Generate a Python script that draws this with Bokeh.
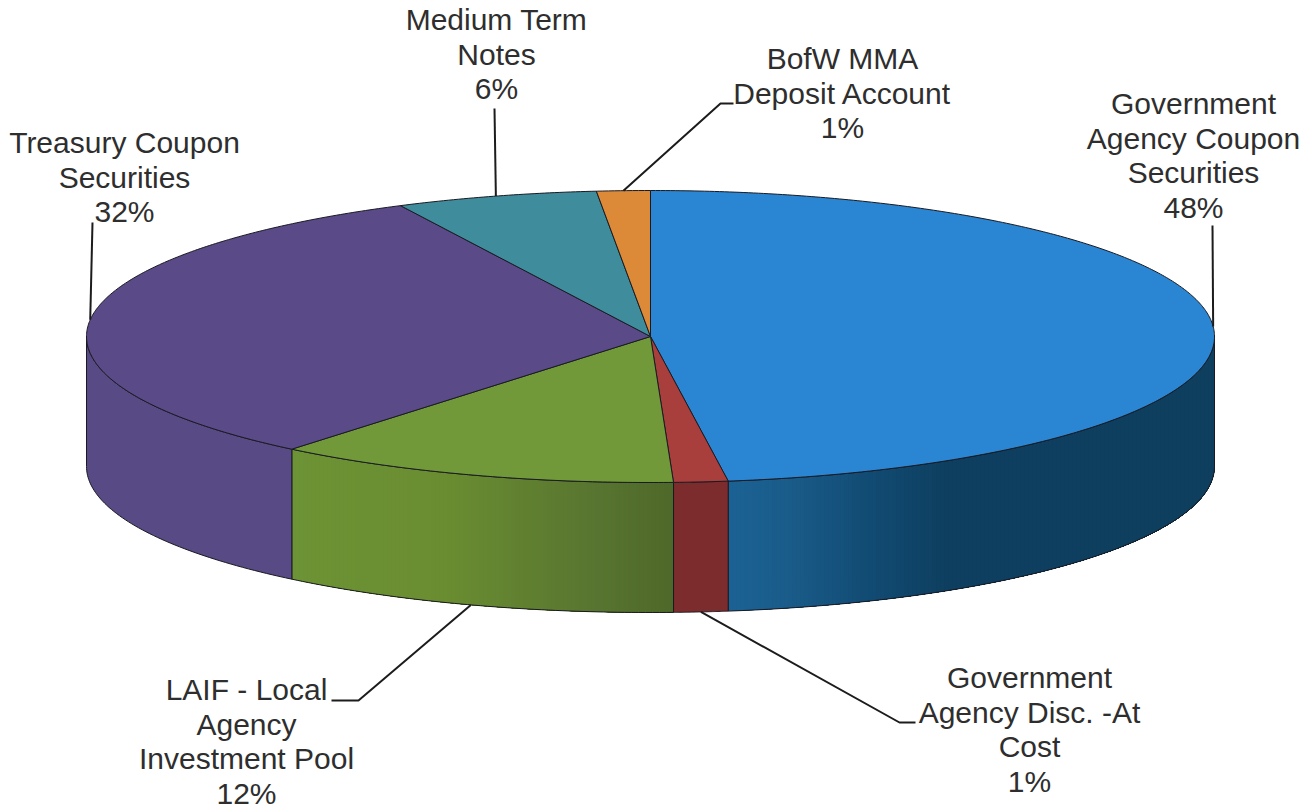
import numpy as np
from bokeh.plotting import figure
from bokeh.models import Range1d
from bokeh.core.properties import value
from bokeh.embed import file_html
from bokeh.resources import INLINE

# ---- data, clockwise from 12 o'clock ----
names = ["Government\nAgency Coupon\nSecurities", "Government\nAgency Disc. -At\nCost",
         "LAIF - Local\nAgency\nInvestment Pool", "Treasury Coupon\nSecurities",
         "Medium Term\nNotes", "BofW MMA\nDeposit Account"]
shares = [47.8, 1.55, 11.62, 31.72, 5.78, 1.53]
pct_labels = ["48%", "1%", "12%", "32%", "6%", "1%"]

# ---- styles ----
top_colors = ["#2a86d2", "#a93f3d", "#71993a", "#5a4b88", "#3f8d9c", "#dd8a38"]
# side shading, left to right across the visible wall of each slice
side_stops = [
    [(0.0, "#1b6294"), (0.12, "#1a5c8a"), (0.3, "#114a72"), (0.45, "#0e3f60"), (1.0, "#0e3f5f")],
    [(0.0, "#7d2c2d"), (1.0, "#7d2c2d")],
    [(0.0, "#6c9335"), (0.4, "#6a8d31"), (0.8, "#587530"), (1.0, "#4e6829")],
    [(0.0, "#574a85"), (1.0, "#574a85")],
    [(0.0, "#2f6a75"), (1.0, "#2f6a75")],
    [(0.0, "#a86a2a"), (1.0, "#a86a2a")],
]
edge = "#1a1a22"
text_color = "#2e2e2e"
FONT = "Liberation Sans"
FS = "30px"
LINE = 34.6

# ---- layout (reference pixels) ----
CX, CY, RX, RY, DEPTH = 650.0, 336.0, 564.0, 146.0, 130.0
label_xy = [(1193, 103), (1029, 677), (246, 689), (124, 142), (496, 19), (842, 58)]
leader_start = [[(1212, 225)], [(915, 722), (899, 722)], [(331, 700), (358, 700)],
                [(92, 222)], [(494, 108)], [(733, 103), (720, 103)]]
leader_on_side = [False, True, True, False, False, False]

p = figure(width=1315, height=812, output_backend="svg", toolbar_location=None,
           x_range=Range1d(0, 1315), y_range=Range1d(812, 0),
           x_axis_type=None, y_axis_type=None, min_border=0, outline_line_color=None)
p.grid.visible = False
p.background_fill_color = "white"
p.border_fill_color = "white"


def px(t):
    return CX + RX * np.sin(t)


def py(t):
    return CY - RY * np.cos(t)


def hex2rgb(h):
    return np.array([int(h[i:i + 2], 16) for i in (1, 3, 5)], float)


def mix(stops, f):
    for (f0, c0), (f1, c1) in zip(stops, stops[1:]):
        if f <= f1:
            u = 0 if f1 == f0 else (f - f0) / (f1 - f0)
            c = hex2rgb(c0) * (1 - u) + hex2rgb(c1) * u
            return "#%02x%02x%02x" % tuple(int(round(v)) for v in c)
    return stops[-1][1]


edges = np.radians(np.concatenate([[0], np.cumsum(shares)]) / sum(shares) * 360)


def wall(a, b, n=60):
    seg = np.linspace(a, b, n)
    return np.r_[px(seg), px(seg)[::-1]], np.r_[py(seg), py(seg)[::-1] + DEPTH]


# side walls: only the front half of the rim is visible
VIS0, VIS1 = np.pi / 2, 3 * np.pi / 2
for i in range(len(shares)):
    a, b = max(edges[i], VIS0), min(edges[i + 1], VIS1)
    if a >= b:
        continue
    stops = side_stops[i]
    if len({c for _, c in stops}) == 1:
        xs, ys = wall(a, b)
        p.patch(xs, ys, fill_color=stops[0][1], line_color=None)
    else:
        xlo, xhi = sorted((float(px(a)), float(px(b))))
        # painted from the left so each strip overlaps the next: no seams
        for xc in np.arange(xlo, xhi, 4.0):
            t = np.pi - np.arcsin((xc - CX) / RX)  # rim angle at this x, front side
            c = mix(stops, (xc - xlo + 2) / (xhi - xlo))
            xs, ys = wall(a, t)
            p.patch(xs, ys, fill_color=c, line_color=None)
    xs, ys = wall(a, b)
    p.patch(xs, ys, fill_alpha=0, line_color=edge, line_width=1)

# top face
for i in range(len(shares)):
    seg = np.linspace(edges[i], edges[i + 1], max(4, int(np.degrees(edges[i + 1] - edges[i])) * 2))
    xs = np.r_[CX, px(seg)]
    ys = np.r_[CY, py(seg)]
    p.patch(xs, ys, fill_color=top_colors[i], line_color=edge, line_width=1)

# leaders
for i in range(len(shares)):
    m = (edges[i] + edges[i + 1]) / 2
    ax, ay = px(m), py(m) + (DEPTH if leader_on_side[i] else 0)
    xs = [q[0] for q in leader_start[i]] + [ax]
    ys = [q[1] for q in leader_start[i]] + [ay]
    p.line(xs, ys, line_color="#1c1c1c", line_width=2)

# labels
tx, ty, tt = [], [], []
for (lx, ly), nm, pc in zip(label_xy, names, pct_labels):
    for k, ln in enumerate(nm.split("\n") + [pc]):
        tx.append(lx)
        ty.append(ly + k * LINE)
        tt.append(ln)
p.text(tx, ty, text=tt, text_font=value(FONT), text_font_size=value(FS), text_color=text_color,
       text_align="center", text_baseline="middle")

open("out.html", "w").write(file_html(p, INLINE))
